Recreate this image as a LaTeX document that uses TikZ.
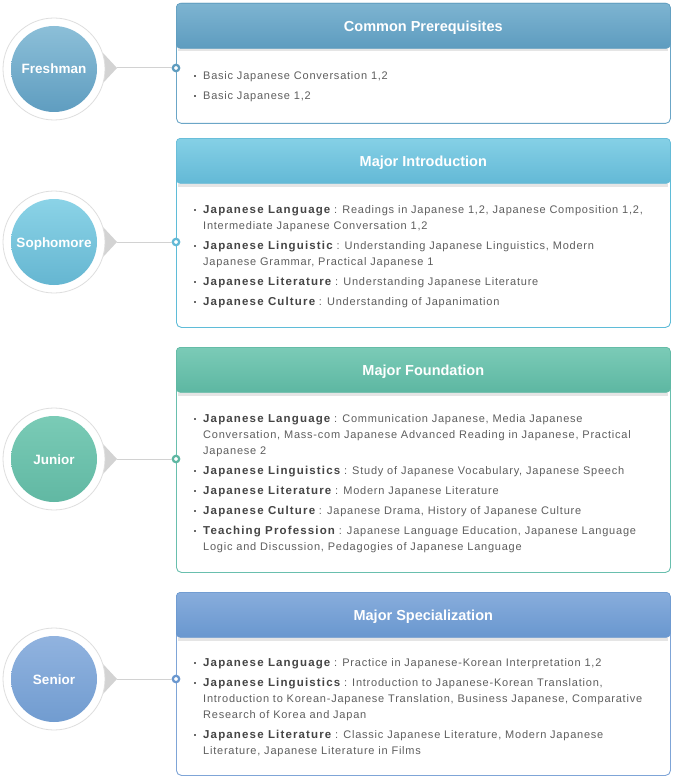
\documentclass[tikz,border=0pt]{standalone}
\usepackage{fontspec}
\setmainfont{Liberation Sans}
\newfontfamily\regf{Liberation Sans}[LetterSpace=7]
\newfontfamily\kwf{Liberation Sans}[LetterSpace=10]
\newfontfamily\titf{Liberation Sans}
\definecolor{txtgray}{HTML}{5E5E5E}
\definecolor{kwgray}{HTML}{454545}
\definecolor{bulgray}{HTML}{6A6A6A}
\definecolor{conngray}{HTML}{D2D2D2}
\definecolor{trigray}{HTML}{D3D3D3}
% section 1
\definecolor{aT}{HTML}{7DB4D1}\definecolor{aB}{HTML}{5E9CBF}\definecolor{aL}{HTML}{6BA6C7}
\definecolor{acT}{HTML}{8CBFD8}\definecolor{acB}{HTML}{5F9DC0}
% section 2
\definecolor{bT}{HTML}{85D0E6}\definecolor{bB}{HTML}{63B9D6}\definecolor{bL}{HTML}{5FBCD8}
\definecolor{bcT}{HTML}{8BD3E7}\definecolor{bcB}{HTML}{65B6D1}
% section 3
\definecolor{cT}{HTML}{7BCBB7}\definecolor{cB}{HTML}{5DB7A2}\definecolor{cL}{HTML}{69BFAE}
\definecolor{ccT}{HTML}{7ACBB6}\definecolor{ccB}{HTML}{61B8A3}
% section 4
\definecolor{dT}{HTML}{88ADDC}\definecolor{dB}{HTML}{6997CF}\definecolor{dL}{HTML}{7FA5D7}
\definecolor{dcT}{HTML}{91B3DF}\definecolor{dcB}{HTML}{719CD0}
\newcounter{lnum}
\newcommand\kw[1]{{\kwf\bfseries\fontsize{11.5}{13}\selectfont\color{kwgray}#1}}
\newcommand\mytxt[2]{\stepcounter{lnum}\node[txt] (t\thelnum) at (203,#1+4.5) {#2};}
\newcommand\myitem[2]{\fill[bulgray] (194,#1+0.3) rectangle (196,#1+2.3); \mytxt{#1}{#2}}
\newcommand\ttl[1]{\raisebox{-5.4pt}[0pt][0pt]{#1}}
\newcommand\clab[1]{\raisebox{-5pt}[0pt][0pt]{#1}}
\tikzset{
  outerc/.style={circle, fill=white, draw=black!13, line width=0.8, minimum size=102, inner sep=0},
  innerc/.style 2 args={circle, top color=#1, bottom color=#2, minimum size=86, inner sep=0,
    text=white, font=\titf\bfseries\fontsize{13.5}{16}\selectfont},
  hdr/.style 2 args={rectangle, rounded corners=4, top color=#1, bottom color=#2, draw=#2,
    line width=0.6, minimum width=494, minimum height=45, anchor=north west, inner sep=0,
    text=white, font=\titf\bfseries\fontsize{14.5}{17}\selectfont},
  bodyb/.style={rectangle, rounded corners=5, fill=white, draw=#1, line width=0.9,
    minimum width=494, anchor=north west, inner sep=0},
  ring/.style={circle, draw=#1, line width=2.2, fill=white, minimum size=6.4, inner sep=0},
  conn/.style={draw=conngray, line width=1},
  tri/.style={fill=trigray},
  hshadow/.style={fill=black, opacity=0.10},
  txt/.style={anchor=base west, inner sep=0, text=txtgray, font=\regf\fontsize{11}{13}\selectfont},
}
\begin{document}
\begin{tikzpicture}[x=1pt,y=-1pt]
\useasboundingbox (0,0) rectangle (673,781);
\fill[white] (0,0) rectangle (673,781);

% ---------- Section 1 ----------
\node[bodyb=aL, minimum height=120] (body1) at (176,3) {};
\fill[hshadow] (178,48) rectangle (668,51.5);
\node[hdr={aT}{aB}] (hdr1) at (176,3) {\ttl{Common Prerequisites}};
\fill[tri] (103,53) -- (117,68) -- (103,83) -- cycle;
\coordinate (tip1) at (117,68);
\node[outerc] (out1) at (54,69) {};
\node[innerc={acT}{acB}] (fresh) at (54,69) {\clab{Freshman}};
\node[ring=aB] (ring1) at (176,68) {};
\draw[conn] (tip1) -- (ring1);
\myitem{75}{Basic Japanese Conversation 1,2}
\myitem{95}{Basic Japanese 1,2}

% ---------- Section 2 ----------
\node[bodyb=bL, minimum height=189] (body2) at (176,138) {};
\fill[hshadow] (178,183) rectangle (668,186.5);
\node[hdr={bT}{bB}] (hdr2) at (176,138) {\ttl{Major Introduction}};
\fill[tri] (103,227) -- (117,242) -- (103,257) -- cycle;
\coordinate (tip2) at (117,242);
\node[outerc] (out2) at (54,242) {};
\node[innerc={bcT}{bcB}] (soph) at (54,242) {\clab{Sophomore}};
\node[ring=bB] (ring2) at (176,242) {};
\draw[conn] (tip2) -- (ring2);
\myitem{209}{\kw{Japanese Language} : Readings in Japanese 1,2, Japanese Composition 1,2,}
\mytxt{225}{Intermediate Japanese Conversation 1,2}
\myitem{245}{\kw{Japanese Linguistic} : Understanding Japanese Linguistics, Modern}
\mytxt{261}{Japanese Grammar, Practical Japanese 1}
\myitem{281}{\kw{Japanese Literature} : Understanding Japanese Literature}
\myitem{301}{\kw{Japanese Culture} : Understanding of Japanimation}

% ---------- Section 3 ----------
\node[bodyb=cL, minimum height=225] (body3) at (176,347) {};
\fill[hshadow] (178,392) rectangle (668,395.5);
\node[hdr={cT}{cB}] (hdr3) at (176,347) {\ttl{Major Foundation}};
\fill[tri] (103,444) -- (117,459) -- (103,474) -- cycle;
\coordinate (tip3) at (117,459);
\node[outerc] (out3) at (54,459) {};
\node[innerc={ccT}{ccB}] (junior) at (54,459) {\clab{Junior}};
\node[ring=cB] (ring3) at (176,459) {};
\draw[conn] (tip3) -- (ring3);
\myitem{418}{\kw{Japanese Language} : Communication Japanese, Media Japanese}
\mytxt{434}{Conversation, Mass-com Japanese Advanced Reading in Japanese, Practical}
\mytxt{450}{Japanese 2}
\myitem{470}{\kw{Japanese Linguistics} : Study of Japanese Vocabulary, Japanese Speech}
\myitem{490}{\kw{Japanese Literature} : Modern Japanese Literature}
\myitem{510}{\kw{Japanese Culture} : Japanese Drama, History of Japanese Culture}
\myitem{530}{\kw{Teaching Profession} : Japanese Language Education, Japanese Language}
\mytxt{546}{Logic and Discussion, Pedagogies of Japanese Language}

% ---------- Section 4 ----------
\node[bodyb=dL, minimum height=183] (body4) at (176,592) {};
\fill[hshadow] (178,637) rectangle (668,640.5);
\node[hdr={dT}{dB}] (hdr4) at (176,592) {\ttl{Major Specialization}};
\fill[tri] (103,664) -- (117,679) -- (103,694) -- cycle;
\coordinate (tip4) at (117,679);
\node[outerc] (out4) at (54,679) {};
\node[innerc={dcT}{dcB}] (senior) at (54,679) {\clab{Senior}};
\node[ring=dB] (ring4) at (176,679) {};
\draw[conn] (tip4) -- (ring4);
\myitem{662}{\kw{Japanese Language} : Practice in Japanese-Korean Interpretation 1,2}
\myitem{682}{\kw{Japanese Linguistics} : Introduction to Japanese-Korean Translation,}
\mytxt{698}{Introduction to Korean-Japanese Translation, Business Japanese, Comparative}
\mytxt{714}{Research of Korea and Japan}
\myitem{734}{\kw{Japanese Literature} : Classic Japanese Literature, Modern Japanese}
\mytxt{750}{Literature, Japanese Literature in Films}
\end{tikzpicture}
\end{document}
